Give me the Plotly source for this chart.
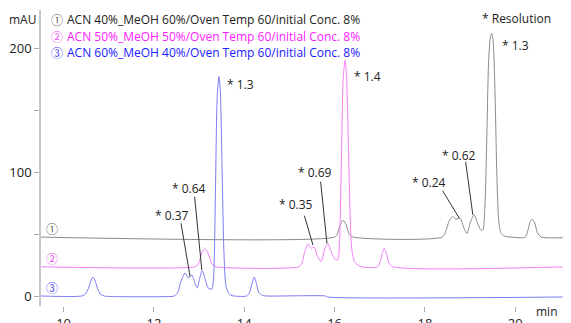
import plotly.graph_objects as go

# ---------------- data ----------------
# Trace 1: ACN 40% (gray)
t1 = [9.5, 16.0, 16.06, 16.12, 16.19, 16.26, 16.32, 16.40, 18.38, 18.46, 18.53, 18.61, 18.69, 18.78, 18.86,
      18.93, 19.01, 19.09, 19.16, 19.23, 19.28, 19.33, 19.37, 19.41, 19.45, 19.48, 19.51, 19.55, 19.59, 19.63,
      19.68, 19.75, 19.9, 20.22, 20.28, 20.33, 20.38, 20.43, 20.49, 20.57, 21.05]
s1 = [47.5, 47.5, 50, 57, 61, 57, 50, 47.6, 47.5, 52, 60, 64, 62, 62.7, 55,
      50.5, 60, 65.3, 59, 53.5, 53, 75, 130, 190, 209, 211.8, 205, 165, 100, 62,
      51, 48.5, 47.5, 47.5, 53, 60, 61.9, 59, 51, 47.6, 47]

# Trace 2: ACN 50% (magenta)
t2 = [9.5, 12.9, 12.97, 13.03, 13.08, 13.13, 13.18, 13.24, 13.30, 13.38, 15.2, 15.27, 15.34, 15.41, 15.48,
      15.55, 15.62, 15.70, 15.78, 15.85, 15.92, 16.0, 16.07, 16.11, 16.15, 16.19, 16.23, 16.26, 16.30, 16.34,
      16.38, 16.45, 16.6, 16.95, 17.01, 17.06, 17.10, 17.15, 17.20, 17.28, 21.05]
s2 = [23.5, 23.5, 25, 31, 36.5, 38, 36, 30, 25, 23.5, 23.5, 26, 36, 41.9, 38.5,
      39.2, 32, 27.7, 38, 42.5, 36, 30, 29, 45, 110, 175, 190, 180, 130, 70,
      38, 27, 23.5, 23.5, 28, 35, 38.4, 34, 27, 23.7, 23.5]

# Trace 3: ACN 60% (blue)
t3 = [9.5, 10.40, 10.48, 10.55, 10.60, 10.65, 10.70, 10.75, 10.82, 10.90, 11.2, 12.2, 12.45, 12.53, 12.60,
      12.69, 12.76, 12.84, 12.91, 12.96, 13.01, 13.07, 13.13, 13.20, 13.28, 13.32, 13.36, 13.40, 13.44, 13.47,
      13.51, 13.55, 13.60, 13.68, 13.78, 14.05, 14.12, 14.17, 14.22, 14.27, 14.32, 14.40, 14.5, 15.8, 15.85, 21.05]
s3 = [0, 0, 1.5, 6, 12, 15.3, 12, 6, 1.5, 0, -0.5, -0.5, 0, 3, 12,
      18.5, 14.5, 17, 10, 6.7, 14, 20.4, 14, 6.5, 5.6, 15, 80, 160, 177, 165,
      100, 35, 7, 1, 0, 0, 3, 10, 15.3, 10, 3, 0.5, 0, 0, -0.8, -0.8]

legend_marks = ["①", "②", "③"]
legend_texts = ["ACN 40%_MeOH 60%/Oven Temp 60/initial Conc. 8%",
                "ACN 50%_MeOH 50%/Oven Temp 60/initial Conc. 8%",
                "ACN 60%_MeOH 40%/Oven Temp 60/initial Conc. 8%"]
res_labels = ["* Resolution", "* 1.3", "* 0.62", "* 0.24", "* 1.4", "* 0.69", "* 0.35", "* 1.3", "* 0.64", "* 0.37"]
y_ticks = [0, 50, 100, 150, 200]
y_ticktext = ["0", "", "100", "", "200"]
x_ticks = [10, 12, 14, 16, 18, 20]

# ---------------- styles ----------------
line_colors = ["#8a8a8a", "#f57ef5", "#7b7bf5"]
text_colors = ["#222222", "#ff20ff", "#1a1aff"]
mark_colors = ["#666666", "#f050f0", "#5050f0"]
FONT = "Open Sans"
CIRC = "Noto Sans CJK JP"

fig = go.Figure()
for t, s, c in [(t1, s1, line_colors[0]), (t2, s2, line_colors[1]), (t3, s3, line_colors[2])]:
    fig.add_trace(go.Scatter(x=t, y=s, mode="lines", line=dict(color=c, width=1, shape="spline", smoothing=0.7),
                             hoverinfo="skip", showlegend=False))

# plot area geometry (px)
L, R, T, B = 41, 6, 10, 17
W, H = 571, 323
pw, ph = W - L - R, H - T - B

def px2paper(px, py):
    return (px - L) / pw, (H - B - py) / ph

annos = []
# legend lines
for i, py in enumerate([20, 36.5, 52]):
    x, y = px2paper(49, py)
    annos.append(dict(x=x, y=y, xref="paper", yref="paper", text=legend_marks[i], showarrow=False,
                      xanchor="left", yanchor="middle",
                      font=dict(family=CIRC, size=12, color=mark_colors[i])))
    x, y = px2paper(65, py)
    annos.append(dict(x=x, y=y, xref="paper", yref="paper", text=legend_texts[i], showarrow=False,
                      xanchor="left", yanchor="middle", font=dict(family=FONT, size=12, color=text_colors[i])))
# mAU and min
x, y = px2paper(22, 20)
annos.append(dict(x=x, y=y, xref="paper", yref="paper", text="mAU", showarrow=False, xanchor="center",
                  yanchor="middle", font=dict(family=FONT, size=12, color="#222")))
x, y = px2paper(547, 311)
annos.append(dict(x=x, y=y, xref="paper", yref="paper", text="min", showarrow=False, xanchor="center",
                  yanchor="middle", font=dict(family=FONT, size=12, color="#222")))
# trace marks at the left of each baseline
for i, yv in enumerate([54.8, 30.4, 6.7]):
    annos.append(dict(x=9.745, y=yv, xref="x", yref="y", text=legend_marks[i], showarrow=False,
                      xanchor="center", yanchor="middle", font=dict(family=CIRC, size=12, color=mark_colors[i])))

# resolution labels: (x, y, anchor)
label_pos = [(20.02, 223.4, "center"), (19.66, 202.4, "left"), (18.34, 113.7, "left"), (17.67, 91.4, "left"),
             (16.39, 176.9, "left"), (15.15, 99.8, "left"), (14.73, 73.4, "left"), (13.58, 170.2, "left"),
             (12.36, 86.9, "left"), (11.99, 65.3, "left")]
for txt, (x, y, a) in zip(res_labels, label_pos):
    annos.append(dict(x=x, y=y, xref="x", yref="y", text=txt, showarrow=False, xanchor=a, yanchor="middle",
                      font=dict(family=FONT, size=12, color="#222")))

leaders = [((18.90, 108.3), (19.06, 65.3)), ((18.39, 84.9), (18.76, 62.7)), ((15.69, 92.2), (15.83, 42.5)),
           ((15.33, 64.8), (15.52, 41.1)), ((12.90, 80.1), (13.06, 21.0)), ((12.60, 58.6), (12.80, 15.6))]
shapes = []
for (x0, y0), (x1, y1) in leaders:
    shapes.append(dict(type="line", xref="x", yref="y", x0=x0, y0=y0, x1=x1, y1=y1,
                       line=dict(color="#333", width=1)))

y_lo = (296 - (H - B)) / 1.24
y_hi = (296 - T) / 1.24

fig.update_layout(
    width=W, height=H, margin=dict(l=L, r=R, t=T, b=B, pad=0, autoexpand=False),
    paper_bgcolor="white", plot_bgcolor="white",
    annotations=annos, shapes=shapes,
    xaxis=dict(range=[9.5, 21.1], tickvals=x_ticks, ticks="outside", ticklen=5, tickcolor="#aaa",
               showline=False, showgrid=False, zeroline=False, automargin=False,
               tickfont=dict(family=FONT, size=13, color="#222")),
    yaxis=dict(range=[y_lo, y_hi], tickvals=y_ticks, ticktext=y_ticktext, ticks="outside", ticklen=5,
               tickcolor="#aaa", showline=True, linecolor="#c8c8c8", linewidth=1.5, showgrid=False,
               zeroline=False, automargin=False, tickfont=dict(family=FONT, size=13, color="#222")),
)
fig.write_html("out.html")
